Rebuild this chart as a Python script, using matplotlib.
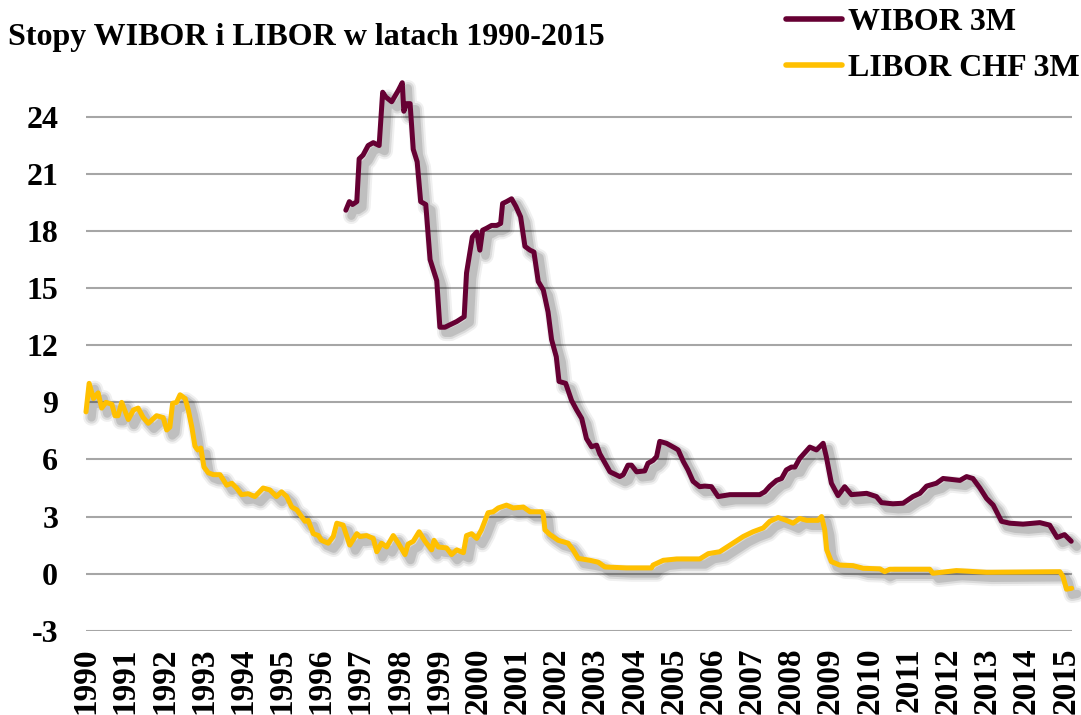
import matplotlib
matplotlib.use("Agg")
import matplotlib.pyplot as plt
import matplotlib.patheffects as pe

# lata (ulamkowe) i wartosci w %
libor_lata = [1990.00, 1990.08, 1990.19, 1990.31, 1990.40, 1990.51, 1990.66, 1990.74, 1990.82, 1990.91,
              1991.08, 1991.21, 1991.33, 1991.46, 1991.59, 1991.80, 1991.97, 1992.06, 1992.14, 1992.21,
              1992.31, 1992.40, 1992.53, 1992.61, 1992.70, 1992.78, 1992.85, 1992.93, 1993.01, 1993.12,
              1993.25, 1993.42, 1993.59, 1993.72, 1993.84, 1993.97, 1994.14, 1994.31, 1994.52, 1994.69,
              1994.86, 1994.99, 1995.12, 1995.25, 1995.38, 1995.50, 1995.59, 1995.67, 1995.80, 1995.93,
              1996.01, 1996.18, 1996.31, 1996.40, 1996.56, 1996.73, 1996.91, 1996.99, 1997.16, 1997.33,
              1997.42, 1997.54, 1997.67, 1997.84, 1997.97, 1998.14, 1998.22, 1998.35, 1998.50, 1998.65,
              1998.82, 1998.88, 1998.99, 1999.20, 1999.33, 1999.46, 1999.63, 1999.71, 1999.84, 1999.97,
              2000.09, 2000.26, 2000.39, 2000.52, 2000.73, 2000.90, 2001.16, 2001.33, 2001.63, 2001.67,
              2001.71, 2001.84, 2002.05, 2002.30, 2002.43, 2002.56, 2002.86, 2003.07, 2003.24, 2003.79,
              2004.43, 2004.47, 2004.73, 2005.07, 2005.66, 2005.88, 2006.17, 2006.51, 2006.77, 2007.02,
              2007.28, 2007.45, 2007.66, 2007.87, 2008.04, 2008.21, 2008.39, 2008.68, 2008.77, 2008.85,
              2008.90, 2009.02, 2009.23, 2009.57, 2009.83, 2010.26, 2010.38, 2010.51, 2011.53, 2011.61,
              2012.21, 2012.98, 2014.85, 2014.93, 2015.02, 2015.15]
libor = [8.5, 10.0, 9.2, 9.5, 8.7, 9.0, 8.9, 8.3, 8.3, 9.0,
         8.1, 8.6, 8.7, 8.2, 7.9, 8.3, 8.2, 7.55, 7.7, 8.95,
         9.0, 9.4, 9.2, 8.6, 7.7, 6.7, 6.5, 6.6, 5.6, 5.3,
         5.2, 5.2, 4.65, 4.75, 4.5, 4.15, 4.2, 4.05, 4.5, 4.4,
         4.05, 4.3, 4.05, 3.5, 3.35, 3.0, 2.75, 2.8, 2.1, 2.0,
         1.75, 1.6, 1.95, 2.65, 2.55, 1.5, 2.1, 1.95, 2.0, 1.85,
         1.15, 1.6, 1.4, 2.0, 1.6, 1.0, 1.55, 1.7, 2.2, 1.7,
         1.25, 1.75, 1.4, 1.35, 1.0, 1.25, 1.1, 2.0, 2.1, 1.85,
         2.3, 3.2, 3.25, 3.45, 3.6, 3.45, 3.5, 3.25, 3.25, 3.1,
         2.3, 2.05, 1.75, 1.6, 1.25, 0.8, 0.7, 0.6, 0.35, 0.3,
         0.3, 0.45, 0.7, 0.77, 0.77, 1.05, 1.15, 1.6, 1.95, 2.2,
         2.4, 2.75, 2.95, 2.8, 2.65, 2.9, 2.8, 2.8, 3.0, 2.3,
         1.25, 0.63, 0.45, 0.42, 0.28, 0.25, 0.1, 0.23, 0.23, 0.02,
         0.16, 0.07, 0.1, -0.16, -0.82, -0.77]

wibor_lata = [1996.63, 1996.72, 1996.80, 1996.91, 1996.97, 1997.07, 1997.20, 1997.33, 1997.48, 1997.57,
              1997.65, 1997.80, 1997.97, 1998.07, 1998.11, 1998.18, 1998.27, 1998.35, 1998.45, 1998.54,
              1998.67, 1998.78, 1998.95, 1999.03, 1999.16, 1999.46, 1999.65, 1999.71, 1999.86, 1999.97,
              2000.05, 2000.12, 2000.22, 2000.35, 2000.48, 2000.58, 2000.63, 2000.73, 2000.86, 2000.97,
              2001.09, 2001.20, 2001.33, 2001.43, 2001.54, 2001.67, 2001.79, 2001.88, 2002.00, 2002.07,
              2002.24, 2002.39, 2002.52, 2002.65, 2002.77, 2002.90, 2003.03, 2003.11, 2003.37, 2003.62,
              2003.71, 2003.83, 2003.92, 2004.05, 2004.26, 2004.34, 2004.47, 2004.56, 2004.64, 2004.81,
              2005.03, 2005.11, 2005.24, 2005.36, 2005.49, 2005.66, 2005.79, 2005.96, 2006.13, 2006.43,
              2007.19, 2007.32, 2007.45, 2007.62, 2007.75, 2007.87, 2008.00, 2008.09, 2008.21, 2008.47,
              2008.64, 2008.81, 2008.89, 2009.02, 2009.19, 2009.36, 2009.53, 2009.92, 2010.17, 2010.30,
              2010.59, 2010.85, 2011.10, 2011.28, 2011.45, 2011.70, 2011.87, 2012.30, 2012.47, 2012.63,
              2012.81, 2012.98, 2013.15, 2013.36, 2013.57, 2013.91, 2014.34, 2014.59, 2014.78, 2014.97,
              2015.14]
wibor = [19.1, 19.55, 19.4, 19.55, 21.8, 22.0, 22.5, 22.65, 22.5, 25.3,
         25.05, 24.8, 25.4, 25.8, 24.3, 24.7, 24.7, 22.3, 21.65, 19.55,
         19.4, 16.5, 15.4, 12.95, 12.95, 13.25, 13.5, 15.8, 17.7, 17.95,
         17.0, 18.05, 18.15, 18.3, 18.3, 18.4, 19.45, 19.55, 19.7, 19.3,
         18.75, 17.2, 17.0, 16.9, 15.35, 14.9, 13.75, 12.3, 11.4, 10.1,
         10.0, 9.1, 8.6, 8.15, 7.1, 6.67, 6.75, 6.3, 5.35, 5.1,
         5.2, 5.7, 5.7, 5.35, 5.4, 5.8, 5.95, 6.15, 6.95, 6.85,
         6.6, 6.5, 5.9, 5.45, 4.85, 4.57, 4.6, 4.57, 4.05, 4.15,
         4.15, 4.3, 4.6, 4.9, 5.0, 5.45, 5.6, 5.6, 6.05, 6.65,
         6.5, 6.85, 6.15, 4.75, 4.1, 4.57, 4.15, 4.22, 4.05, 3.73,
         3.67, 3.7, 4.05, 4.22, 4.6, 4.75, 5.0, 4.9, 5.1, 5.0,
         4.5, 3.95, 3.6, 2.75, 2.65, 2.6, 2.68, 2.55, 1.9, 2.05,
         1.7]

lata_ticks = list(range(1990, 2016))
y_ticks = [-3, 0, 3, 6, 9, 12, 15, 18, 21, 24]

plt.rcParams['font.family'] = ['Liberation Serif', 'DejaVu Serif']
plt.rcParams['font.weight'] = 'bold'

fig = plt.figure(figsize=(10.81, 7.15), dpi=100)
ax = fig.add_axes([86/1081, 1-630.7/715, (1072-86)/1081, (630.7-69.4)/715])

# miekki cien pod liniami (kilka warstw zamiast rozmycia)
cien = [pe.SimpleLineShadow(offset=(4, -4), shadow_color='black', alpha=0.06, linewidth=12),
        pe.SimpleLineShadow(offset=(4, -4), shadow_color='black', alpha=0.09, linewidth=9),
        pe.SimpleLineShadow(offset=(4, -4), shadow_color='black', alpha=0.12, linewidth=6),
        pe.Normal()]
l1, = ax.plot(wibor_lata, wibor, color='#660033', lw=3.6, solid_joinstyle='round',
              solid_capstyle='round', path_effects=cien, label='WIBOR 3M', clip_on=False)
l2, = ax.plot(libor_lata, libor, color='#FFC000', lw=3.6, solid_joinstyle='round',
              solid_capstyle='round', path_effects=cien, label='LIBOR CHF 3M', clip_on=False)

ax.set_xlim(1990, 2015.16)
ax.set_ylim(-3, 26.5)
ax.set_yticks(y_ticks)
ax.set_xticks(lata_ticks)
ax.set_xticklabels([str(r) for r in lata_ticks], rotation=90, fontsize=24, fontweight='bold')
ax.set_yticklabels([str(v) for v in y_ticks], fontsize=23, fontweight='bold')
ax.tick_params(axis='y', length=0, pad=20)
ax.tick_params(axis='x', length=0, pad=12)
ax.grid(axis='y', color='#A6A6A6', lw=1.5)
ax.set_axisbelow(True)
for s in ax.spines.values():
    s.set_visible(False)

fig.text(8/1081, 1-37/715, 'Stopy WIBOR i LIBOR w latach 1990-2015', fontsize=23,
         fontweight='bold', va='center', ha='left')

leg = fig.legend(handles=[l1, l2], loc='upper left', bbox_to_anchor=(786/1081, 1-8/715),
                 frameon=False, handlelength=1.75, handletextpad=0.2,
                 labelspacing=0.5, borderpad=0, borderaxespad=0,
                 prop={'weight': 'bold', 'size': 23})
for h in leg.legend_handles:
    h.set_path_effects([])
    h.set_linewidth(4)

fig.savefig('out.png', dpi=100)
